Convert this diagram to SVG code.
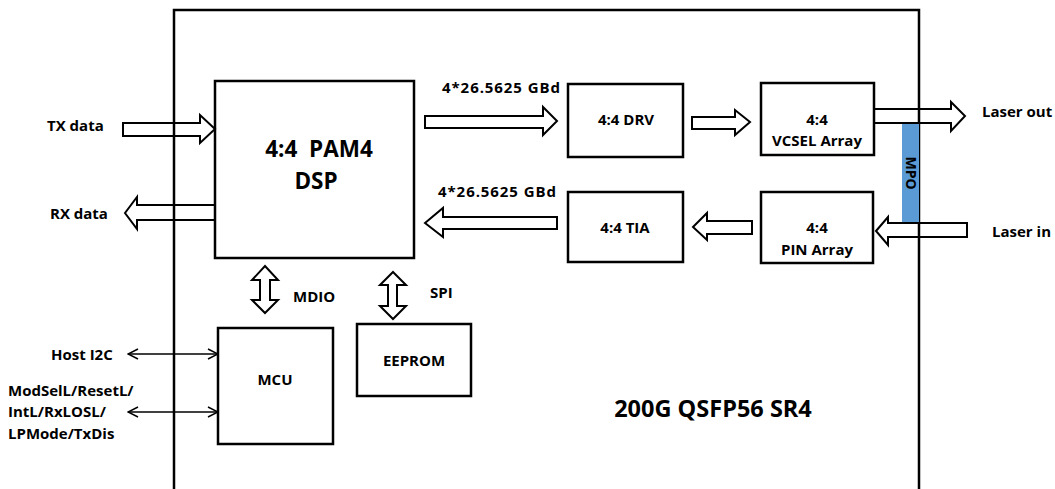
<svg xmlns="http://www.w3.org/2000/svg" width="1055" height="489" viewBox="0 0 1055 489">
<style>
.box{fill:#fff;stroke:#000;stroke-width:2.5}
.barr{fill:none;stroke:#000;stroke-width:2;stroke-linejoin:miter}
.t{font-family:"Open Sans","Noto Sans","Liberation Sans",sans-serif;font-weight:bold;fill:#000}
.s14{font-size:15px}
.c{text-anchor:middle}
.thin{stroke:#000;stroke-width:1.5;fill:none}
</style>
<defs>
<marker id="ah" viewBox="0 0 12 12" refX="11" refY="6" markerWidth="12" markerHeight="12" markerUnits="userSpaceOnUse" orient="auto-start-reverse">
<path d="M1,1 L11,6 L1,11" fill="none" stroke="#000" stroke-width="1.5"/>
</marker>
</defs>
<rect width="1055" height="489" fill="#fff"/>
<g id="module">
<path d="M174,489 V10 H919 V489" fill="none" stroke="#000" stroke-width="2.5"/>
<text class="t c" x="713" y="417" font-size="23.5">200G QSFP56 SR4</text>
</g>
<g id="mpo">
<rect x="902" y="123" width="17" height="100" fill="#5b9bd5"/>
<text class="t c" font-size="14" transform="translate(905.5,173) rotate(90)">MPO</text>
</g>
<g id="dsp">
<rect class="box" x="215" y="81" width="199" height="177"/>
<text class="t c" x="319" y="157" font-size="22.5" xml:space="preserve">4:4  PAM4</text>
<text class="t c" x="316" y="189" font-size="22.5">DSP</text>
</g>
<g id="drv">
<rect class="box" x="568" y="84" width="115" height="73"/>
<text class="t c s14" x="626" y="125">4:4 DRV</text>
</g>
<g id="tia">
<rect class="box" x="568" y="192" width="115" height="70"/>
<text class="t c s14" x="625" y="233">4:4 TIA</text>
</g>
<g id="vcsel">
<rect class="box" x="761" y="83" width="113" height="72"/>
<text class="t c s14" x="817" y="125">4:4</text>
<text class="t c s14" x="817" y="146">VCSEL Array</text>
</g>
<g id="pin">
<rect class="box" x="761" y="192" width="112" height="71"/>
<text class="t c s14" x="817" y="233">4:4</text>
<text class="t c s14" x="817" y="255">PIN Array</text>
</g>
<g id="mcu">
<rect class="box" x="218" y="328" width="115" height="116"/>
<text class="t c s14" x="275" y="385">MCU</text>
</g>
<g id="eeprom">
<rect class="box" x="357" y="324" width="114" height="72"/>
<text class="t c s14" x="414" y="366">EEPROM</text>
</g>
<g id="connectors">
<polygon class="barr" points="123,123 200,123 200,115 215,129 200,143 200,136 123,136"/>
<polygon class="barr" points="125,213 137,197 137,205 215,205 215,220 137,220 137,229"/>
<polygon class="barr" points="425,116 543,116 543,107 557,121 543,135 543,128 425,128"/>
<polygon class="barr" points="692,117 735,117 735,110 750,122 735,135 735,129 692,129"/>
<polygon class="barr" points="874,109 951,109 951,102 965,116 951,131 951,123 874,123"/>
<polygon class="barr" points="425,223 443,208 443,217 557,217 557,229 443,229 443,237"/>
<polygon class="barr" points="693,227 707,213 707,221 752,221 752,234 707,234 707,240"/>
<polygon class="barr" points="876,231 888,217 888,223 967,223 967,237 888,237 888,245"/>
<polygon class="barr" points="265,266 278,280 270,280 270,300 278,300 265,313 252,300 260,300 260,280 252,280"/>
<polygon class="barr" points="393,272 406,285 397,285 397,306 406,306 393,319 380,306 388,306 388,285 380,285"/>
<line class="thin" x1="128" y1="354" x2="218" y2="354" marker-start="url(#ah)" marker-end="url(#ah)"/>
<line class="thin" x1="128" y1="412" x2="218" y2="412" marker-start="url(#ah)" marker-end="url(#ah)"/>
</g>
<g id="labels">
<text class="t s14" x="47" y="131">TX data</text>
<text class="t s14" x="50" y="219">RX data</text>
<text class="t s14" x="442" y="93" textLength="118">4*26.5625 GBd</text>
<text class="t s14" x="438" y="197" textLength="118">4*26.5625 GBd</text>
<text class="t s14" x="982" y="117">Laser out</text>
<text class="t s14" x="992" y="237">Laser in</text>
<text class="t s14" x="293" y="302">MDIO</text>
<text class="t s14" x="430" y="298">SPI</text>
<text class="t s14" x="51" y="360">Host I2C</text>
<text class="t s14" x="8" y="396">ModSelL/ResetL/</text>
<text class="t s14" x="8" y="417">IntL/RxLOSL/</text>
<text class="t s14" x="8" y="439">LPMode/TxDis</text>
</g>
</svg>
